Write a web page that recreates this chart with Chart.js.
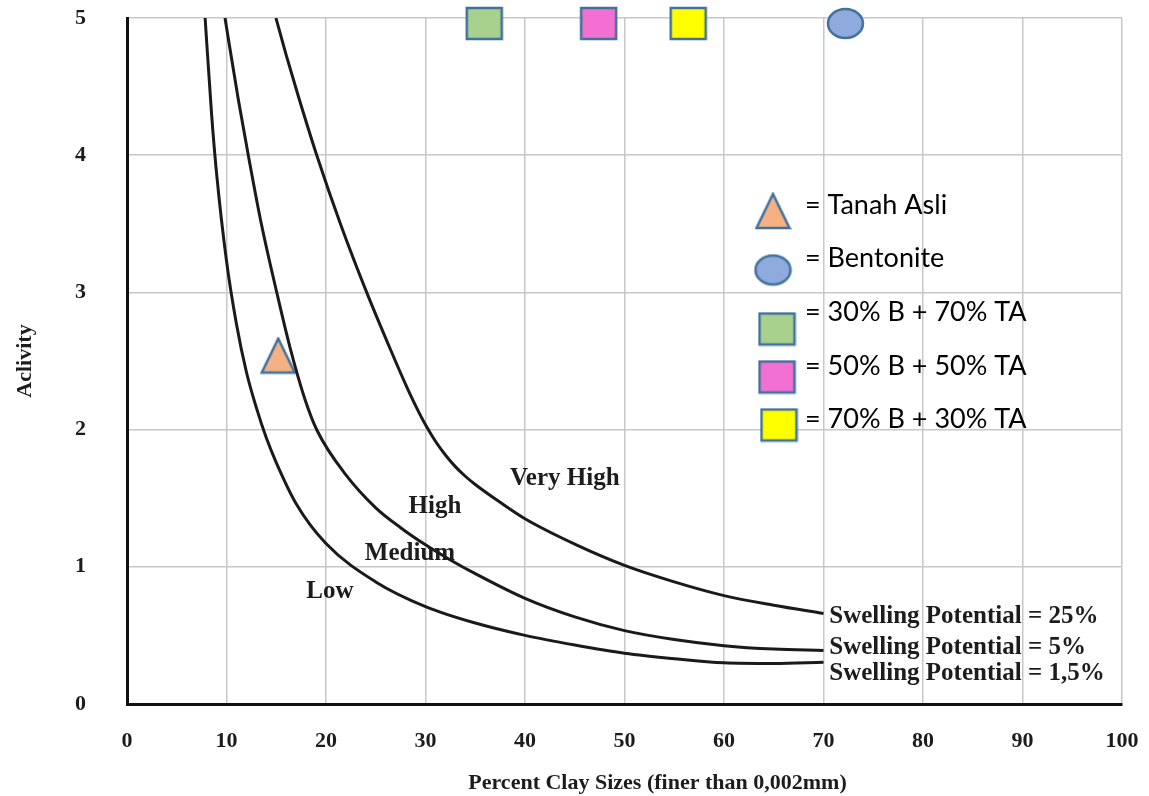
<!DOCTYPE html>
<html>
<head>
<meta charset="utf-8">
<script src="https://cdn.jsdelivr.net/npm/chart.js@4.4.1/dist/chart.umd.min.js"></script>
<style>
  html, body { margin: 0; padding: 0; background: #fff; }
  #wrap { width: 1149px; height: 796px; }
</style>
</head>
<body>
<div id="wrap"><canvas id="chart"></canvas></div>
<script>
// swelling potential curves (x = % clay, y = activity)
const lowX = [7.85, 8.5, 9.0, 10, 11, 12, 13, 14, 15, 17, 20, 25, 30, 35, 40, 45, 50, 55, 60, 65, 70];
const lowY = [5.0, 4.30, 3.87, 3.23, 2.77, 2.42, 2.16, 1.94, 1.76, 1.46, 1.17, 0.89, 0.71, 0.59, 0.50, 0.43, 0.37, 0.33, 0.30, 0.295, 0.305];
const highX = [9.85, 11.2, 12.19, 13.5, 15.05, 16.38, 17.89, 19.13, 22, 25, 27.5, 30, 32.5, 35, 40, 45, 50, 55, 60, 65, 70];
const highY = [5.0, 4.4, 4.0, 3.5, 3.0, 2.6, 2.22, 1.99, 1.67, 1.43, 1.285, 1.16, 1.05, 0.95, 0.77, 0.635, 0.535, 0.47, 0.425, 0.40, 0.39];
const vhighX = [14.97, 16.0, 17.22, 19.07, 21.5, 24.09, 26.5, 28, 29, 30, 31, 32, 33, 34, 35, 37.5, 40, 45, 50, 55, 60, 65, 70];
const vhighY = [5.0, 4.73, 4.43, 4.0, 3.49, 3.0, 2.58, 2.33, 2.175, 2.035, 1.915, 1.815, 1.73, 1.66, 1.60, 1.47, 1.35, 1.165, 1.01, 0.89, 0.79, 0.72, 0.66];

// samples
const sampleNames = ['Tanah Asli', 'Bentonite', '30% B + 70% TA', '50% B + 50% TA', '70% B + 30% TA'];
const sampleX = [15.2, 72.2, 35.9, 47.4, 56.4];
const sampleY = [2.54, 4.96, 4.96, 4.96, 4.96];
const sampleShape = ['triangle', 'ellipse', 'rect', 'rect', 'rect'];
const sampleFill = ['#f4b183', '#8faadc', '#a9d18e', '#f170d2', '#ffff00'];

// text on the plot
const zoneText = ['Very High', 'High', 'Medium', 'Low'];
const zoneX = [44.0, 30.95, 28.44, 20.4];
const zoneY = [1.596, 1.392, 1.05, 0.773];
const swellText = ['Swelling Potential = 25%', 'Swelling Potential = 5%', 'Swelling Potential = 1,5%'];
const swellX = [70.58, 70.58, 70.58];
const swellY = [0.588, 0.364, 0.175];

const xTicks = [0, 10, 20, 30, 40, 50, 60, 70, 80, 90, 100];
const yTicks = [0, 1, 2, 3, 4, 5];

const serif = "'Liberation Serif', 'Times New Roman', serif";
const ink = '#1c1c1c';

function marker(shape, fill) {
  const size = { triangle: [33, 34], ellipse: [35, 29], rect: [35, 31] }[shape];
  const w = size[0], h = size[1];
  const c = document.createElement('canvas');
  c.width = w + 4;
  c.height = h + 4;
  const g = c.getContext('2d');
  g.fillStyle = fill;
  g.strokeStyle = '#41719c';
  g.lineWidth = 2.5;
  g.beginPath();
  if (shape === 'triangle') {
    g.moveTo(2 + w / 2, 2);
    g.lineTo(2 + w, 2 + h);
    g.lineTo(2, 2 + h);
    g.closePath();
  } else if (shape === 'ellipse') {
    g.ellipse(2 + w / 2, 2 + h / 2, w / 2, h / 2, 0, 0, Math.PI * 2);
  } else {
    g.rect(2, 2, w, h);
  }
  g.fill();
  g.stroke();
  return c;
}

const markers = sampleShape.map((s, i) => marker(s, sampleFill[i]));

function pts(xs, ys) {
  return xs.map((x, i) => ({ x: x, y: ys[i] }));
}

const curveSets = [[lowX, lowY], [highX, highY], [vhighX, vhighY]].map(c => ({
  type: 'line',
  data: pts(c[0], c[1]),
  borderColor: '#1a1a1a',
  borderWidth: 3,
  pointRadius: 0,
  pointHoverRadius: 0,
  fill: false,
  cubicInterpolationMode: 'monotone'
}));

const sampleSets = sampleNames.map((name, i) => ({
  type: 'scatter',
  label: name,
  data: [{ x: sampleX[i], y: sampleY[i] }],
  pointStyle: markers[i],
  pointRadius: 1,
  pointHoverRadius: 1,
  clip: false
}));

const textPlugin = {
  id: 'texts',
  afterDatasetsDraw(chart) {
    const ctx = chart.ctx;
    const xs = chart.scales.x, ys = chart.scales.y;
    const area = chart.chartArea;
    ctx.save();
    ctx.fillStyle = ink;
    ctx.textBaseline = 'alphabetic';

    ctx.font = 'bold 25px ' + serif;
    ctx.textAlign = 'center';
    zoneText.forEach((t, i) => {
      ctx.fillText(t, xs.getPixelForValue(zoneX[i]), ys.getPixelForValue(zoneY[i]));
    });
    ctx.textAlign = 'left';
    swellText.forEach((t, i) => {
      ctx.fillText(t, xs.getPixelForValue(swellX[i]), ys.getPixelForValue(swellY[i]));
    });

    // legend block
    const textX = 805;
    const iconY = [211, 270, 329, 377, 425];
    const iconX = [773, 773, 777, 777, 779];
    const baseY = [214, 267, 321, 375, 428];
    ctx.font = '27px Lato, Carlito, sans-serif';
    ctx.fillStyle = '#000';
    sampleNames.forEach((name, i) => {
      const m = markers[i];
      ctx.drawImage(m, iconX[i] - m.width / 2, iconY[i] - m.height / 2);
      ctx.fillText('= ' + name, textX, baseY[i]);
    });

    // axis titles
    ctx.fillStyle = ink;
    ctx.font = 'bold 22px ' + serif;
    ctx.textAlign = 'center';
    ctx.fillText('Percent Clay Sizes (finer than 0,002mm)', (area.left + area.right) / 2 + 33, 789);
    ctx.translate(31, 361);
    ctx.rotate(-Math.PI / 2);
    ctx.font = 'bold 22px ' + serif;
    ctx.fillText('Aclivity', 0, 0);
    ctx.restore();
  }
};

new Chart(document.getElementById('chart'), {
  type: 'scatter',
  data: { datasets: curveSets.concat(sampleSets) },
  options: {
    responsive: true,
    maintainAspectRatio: false,
    animation: false,
    events: [],
    layout: { autoPadding: false, padding: { top: 18, right: 27, left: 0, bottom: 0 } },
    plugins: { legend: { display: false }, tooltip: { enabled: false } },
    scales: {
      x: {
        type: 'linear',
        min: 0,
        max: 100,
        afterFit: s => { s.height = 92; s.paddingLeft = 0; s.paddingRight = 0; },
        afterBuildTicks: s => { s.ticks = xTicks.map(v => ({ value: v })); },
        grid: { color: '#c8c8c8', lineWidth: 1.5, drawTicks: false },
        border: { color: '#111', width: 3 },
        ticks: {
          padding: 24,
          color: ink,
          font: { family: serif, size: 22, weight: 'bold' },
          maxRotation: 0
        }
      },
      y: {
        type: 'linear',
        min: 0,
        max: 5,
        afterFit: s => { s.width = 127; s.paddingTop = 0; s.paddingBottom = 0; },
        afterBuildTicks: s => { s.ticks = yTicks.map(v => ({ value: v })); },
        grid: { color: '#c8c8c8', lineWidth: 1.5, drawTicks: false },
        border: { color: '#111', width: 3 },
        ticks: {
          padding: 41,
          color: ink,
          font: { family: serif, size: 22, weight: 'bold' }
        }
      }
    }
  },
  plugins: [textPlugin]
});
</script>
</body>
</html>
